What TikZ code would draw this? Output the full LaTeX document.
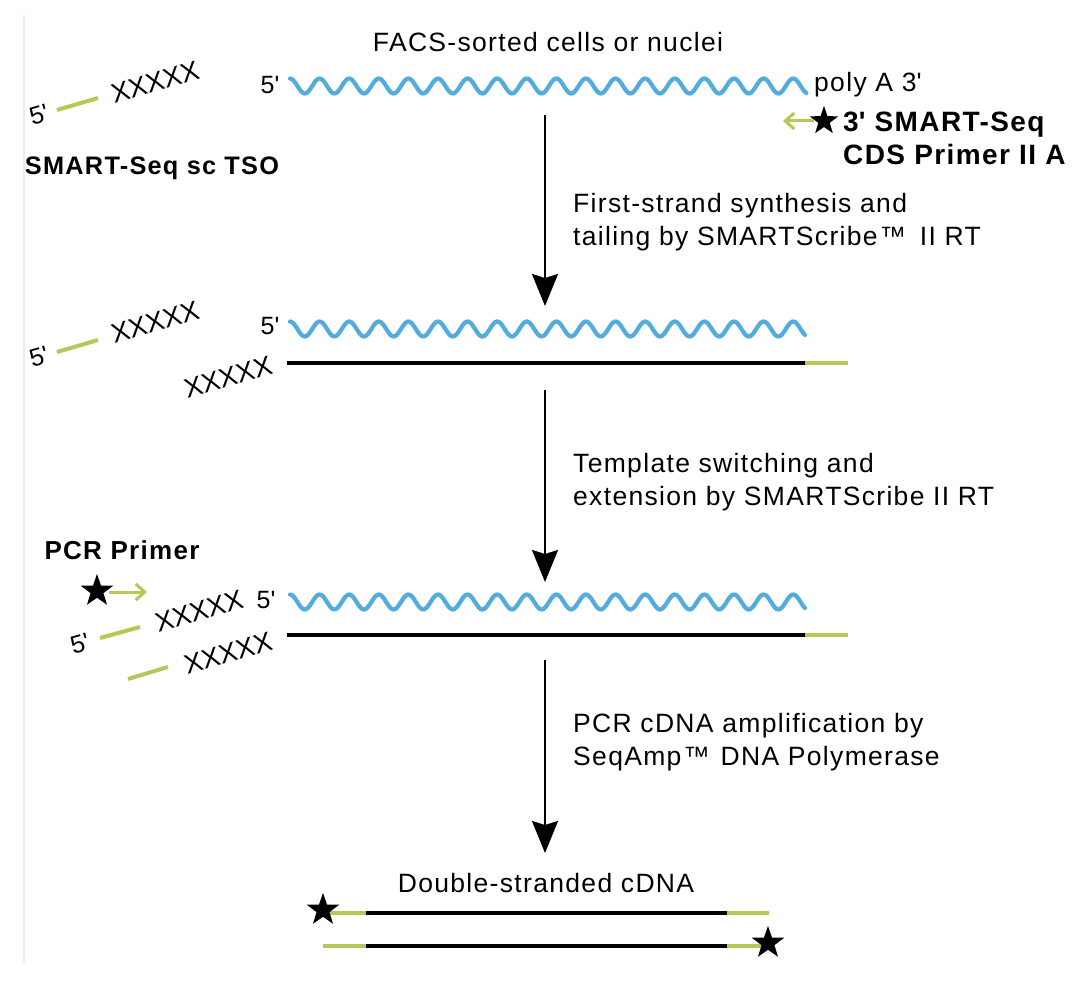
\documentclass[tikz,border=0pt]{standalone}
\usepackage{fontspec}
\setmainfont{Liberation Sans}
\newfontfamily\lsfont{Liberation Sans}[LetterSpace=5]
\usetikzlibrary{shapes.geometric,arrows.meta}
\definecolor{wblue}{RGB}{82,172,222}
\definecolor{pgreen}{RGB}{178,202,88}
\newcommand{\pr}{\textquotesingle}
\tikzset{
  lbl/.style={font=\lsfont\fontsize{26.5}{33}\selectfont, inner sep=0pt, align=left},
  blbl/.style={font=\lsfont\bfseries\fontsize{26}{33}\selectfont, inner sep=0pt, align=left},
  xxlbl/.style={font=\fontsize{27}{27}\selectfont, inner sep=0pt, rotate=16},
  rnalbl/.style={font=\fontsize{25}{25}\selectfont, inner sep=0pt},
  wavestyle/.style={wblue, line width=4.2pt, line cap=round},
  cdna/.style={black, line width=4pt},
  adapt/.style={pgreen, line width=4pt},
  flowarrow/.style={black, line width=2pt, -{Stealth[length=32pt, width=26pt, inset=4pt]}},
  primerarrow/.style={pgreen, line width=3pt, -{Straight Barb[length=9pt, width=16pt, line width=3pt]}},
  starmark/.style={star, star points=5, star point ratio=2.5, fill=black, draw=none, minimum size=34pt, inner sep=0pt},
}
\begin{document}
\begin{tikzpicture}[x=1pt, y=-1pt]
\useasboundingbox (0,0) rectangle (1090,1000);
\fill[white] (0,0) rectangle (1090,1000);
\draw[black!7, line width=2pt] (24,15) -- (24,963);

% ---------- stage 1 ----------
\node[lbl, anchor=center] (facs) at (548,42) {FACS-sorted cells or nuclei};
\node[rnalbl] (p5a) at (270,85) {5\pr};
\draw[wavestyle] plot[domain=0:17.45, samples=320, smooth] ({290+29.6*\x},{86-7.5*cos(360*\x)});
\node[lbl, anchor=west] (polyA) at (814,85) {poly A 3\pr};
\node[starmark, minimum size=30pt] (starA) at (824,121) {};
\coordinate (tipA) at (783,121);
\draw[primerarrow] (starA.center) ++(-10,0) coordinate (sA) (sA) -- (tipA);
\node[blbl, anchor=west, font=\lsfont\bfseries\fontsize{28}{33}\selectfont] (cds) at (843,138) {3\pr{} SMART-Seq\\CDS Primer II A};

\node[rnalbl, rotate=16] (tso5a) at (39,115) {5\pr};
\coordinate (ga1) at (57,110); \coordinate (ga2) at (98,98);
\draw[adapt] (ga1) -- (ga2);
\node[xxlbl] (tsoxa) at (155,82) {XXXXX};
\node[blbl, anchor=center, font=\lsfont\bfseries\fontsize{25.3}{33}\selectfont] (tsolbl) at (152,168) {SMART-Seq sc TSO};

\coordinate (a1s) at (545,115); \coordinate (a1e) at (545,306);
\draw[flowarrow] (a1s) -- (a1e);
\node[lbl, anchor=west] (step1) at (573,222) {First-strand synthesis and\\tailing by SMARTScribe\hspace{2pt}™\hspace{5pt} II RT};

% ---------- stage 2 ----------
\node[rnalbl] (p5b) at (270,326) {5\pr};
\draw[wavestyle] plot[domain=0:17.4, samples=320, smooth] ({290+29.6*\x},{329-7.5*cos(360*\x)});
\coordinate (b1) at (287,363); \coordinate (b2) at (805,363); \coordinate (b3) at (848,363);
\draw[cdna] (b1) -- (b2);
\draw[adapt] (b2) -- (b3);
\node[rnalbl, rotate=16] (tso5b) at (39,357) {5\pr};
\coordinate (gb1) at (57,352); \coordinate (gb2) at (98,340);
\draw[adapt] (gb1) -- (gb2);
\node[xxlbl] (tsoxb) at (155,322) {XXXXX};
\node[xxlbl] (cdnaxb) at (228,377) {XXXXX};

\coordinate (a2s) at (545,390); \coordinate (a2e) at (545,582);
\draw[flowarrow] (a2s) -- (a2e);
\node[lbl, anchor=west] (step2) at (573,482) {Template switching and\\extension by SMARTScribe II RT};

% ---------- stage 3 ----------
\node[blbl, anchor=center] (pcrlbl) at (122,550) {PCR Primer};
\node[starmark] (starP) at (97,591) {};
\coordinate (tipP) at (147,592);
\draw[primerarrow] (starP.center) ++(12,1) coordinate (sP) (sP) -- (tipP);
\node[xxlbl] (tsoxc) at (199,611) {XXXXX};
\node[rnalbl] (p5c) at (266,600) {5\pr};
\draw[wavestyle] plot[domain=0:17.4, samples=320, smooth] ({290+29.6*\x},{602-7.5*cos(360*\x)});
\coordinate (c1) at (287,635); \coordinate (c2) at (805,635); \coordinate (c3) at (848,635);
\draw[cdna] (c1) -- (c2);
\draw[adapt] (c2) -- (c3);
\node[rnalbl, rotate=16] (tso5c) at (80,644) {5\pr};
\coordinate (gc1) at (100,638); \coordinate (gc2) at (140,627);
\draw[adapt] (gc1) -- (gc2);
\node[xxlbl] (cdnaxc) at (228,653) {XXXXX};
\coordinate (gd1) at (128,679); \coordinate (gd2) at (168,667);
\draw[adapt] (gd1) -- (gd2);

\coordinate (a3s) at (545,660); \coordinate (a3e) at (545,853);
\draw[flowarrow] (a3s) -- (a3e);
\node[lbl, anchor=west] (step3) at (573,742) {PCR cDNA amplification by\\SeqAmp\hspace{2pt}™\hspace{2pt} DNA Polymerase};

% ---------- stage 4 ----------
\node[lbl, anchor=center] (dsc) at (546,883) {Double-stranded cDNA};
\coordinate (d1) at (330,913); \coordinate (d2) at (366,913); \coordinate (d3) at (727,913); \coordinate (d4) at (769,913);
\draw[adapt] (d1) -- (d2);
\draw[cdna] (d2) -- (d3);
\draw[adapt] (d3) -- (d4);
\node[starmark] (starD1) at (323,910) {};
\coordinate (e1) at (323,946); \coordinate (e2) at (366,946); \coordinate (e3) at (727,946); \coordinate (e4) at (765,946);
\draw[adapt] (e1) -- (e2);
\draw[cdna] (e2) -- (e3);
\draw[adapt] (e3) -- (e4);
\node[starmark] (starD2) at (768,943) {};
\end{tikzpicture}
\end{document}
